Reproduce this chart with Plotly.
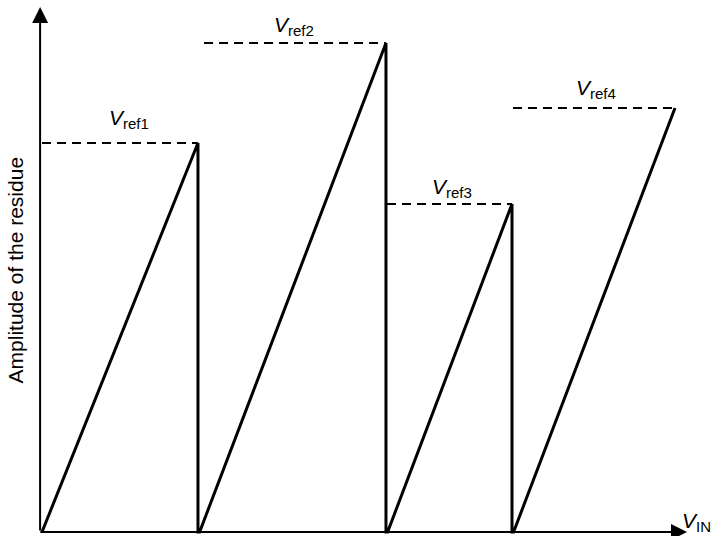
import plotly.graph_objects as go

# Residue amplitude of a subranging converter vs. input voltage (normalized)
seg_start = [0.0, 0.249, 0.546, 0.745]      # V_IN where each ramp begins
seg_end = [0.2464, 0.5434, 0.7425, 1.0]     # V_IN where each ramp peaks
vref = [0.778, 0.978, 0.656, 0.848]         # peak residue = reference level
dash_start = [0.0, 0.256, 0.545, 0.744]     # left end of each reference line
label_x = [0.137, 0.398, 0.648, 0.875]
label_y = [0.826, 1.012, 0.688, 0.886]
labels = ["ref1", "ref2", "ref3", "ref4"]

FONT = "Liberation Sans, Arial, Helvetica, sans-serif"


def v_sub(sub):
    return (f"<i>V</i><sub><span style='font-size:15px'>{sub}</span></sub>")


fig = go.Figure()

# sawtooth residue: ramp up to Vref, then drop back to zero
xs, ys = [], []
for i, (a, b, v) in enumerate(zip(seg_start, seg_end, vref)):
    xs += [a, b]
    ys += [0, v]
    if i < len(vref) - 1:
        xs += [b]
        ys += [0]
fig.add_trace(go.Scatter(x=xs, y=ys, mode="lines",
                         line=dict(color="black", width=3),
                         hoverinfo="skip", showlegend=False))

# dashed reference levels
for a, b, v in zip(dash_start, seg_end, vref):
    fig.add_trace(go.Scatter(x=[a, b], y=[v, v], mode="lines",
                             line=dict(color="black", width=2, dash="9px,6px"),
                             hoverinfo="skip", showlegend=False))

annotations = []
# reference labels
for lx, ly, sub in zip(label_x, label_y, labels):
    annotations.append(dict(x=lx, y=ly, xref="x", yref="y",
                            text=v_sub(sub), showarrow=False,
                            yanchor="middle",
                            font=dict(family=FONT, size=21, color="black")))

# axes drawn as arrows
annotations.append(dict(x=-0.003, y=1.05, ax=-0.003, ay=0, xref="x", yref="y",
                        axref="x", ayref="y", text="", showarrow=True,
                        arrowhead=2, arrowsize=1.6, arrowwidth=2,
                        arrowcolor="black"))
annotations.append(dict(x=1.019, y=0, ax=-0.005, ay=0, xref="x", yref="y",
                        axref="x", ayref="y", text="", showarrow=True,
                        arrowhead=2, arrowsize=1.6, arrowwidth=2,
                        arrowcolor="black"))

# axis titles
annotations.append(dict(x=0.999, y=0.02, xref="paper", yref="y",
                        text=v_sub("IN"), showarrow=False,
                        xanchor="right", yanchor="middle",
                        font=dict(family=FONT, size=21, color="black")))
annotations.append(dict(x=-0.042, y=0.524, xref="x", yref="y",
                        text="Amplitude of the residue", showarrow=False,
                        textangle=-90, xanchor="center", yanchor="middle",
                        font=dict(family=FONT, size=21, color="black")))

fig.update_layout(
    width=714, height=536,
    margin=dict(l=0, r=0, t=0, b=0),
    paper_bgcolor="white", plot_bgcolor="white",
    xaxis=dict(range=[-0.06635, 1.06161], visible=False, fixedrange=True),
    yaxis=dict(range=[-0.008, 1.064], visible=False, fixedrange=True),
    annotations=annotations,
)

fig.write_html("out.html")
